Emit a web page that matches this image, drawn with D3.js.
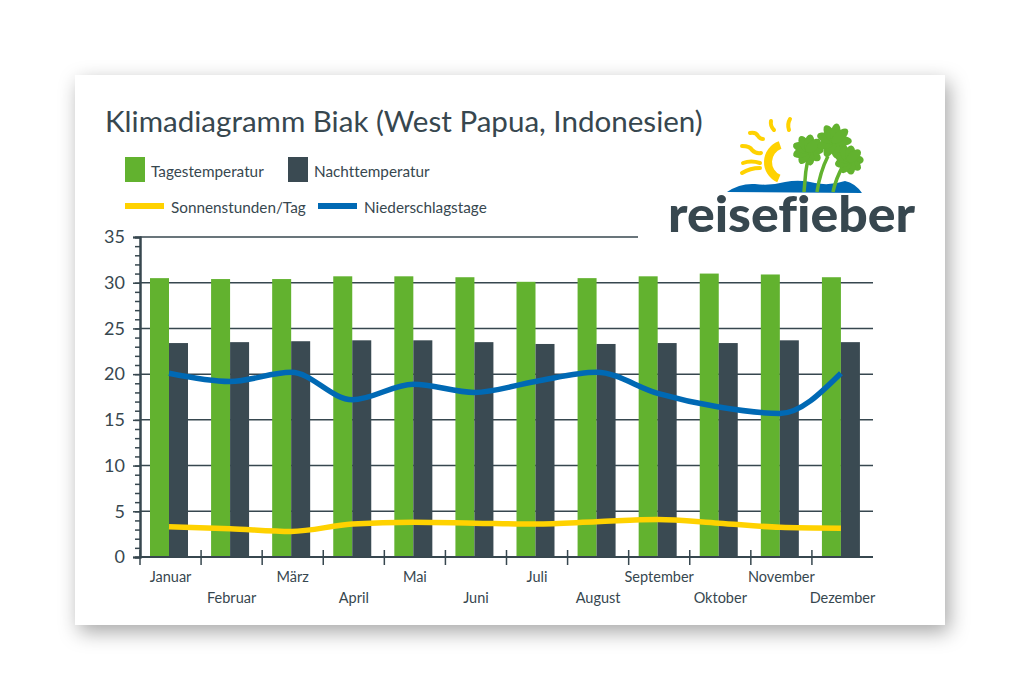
<!DOCTYPE html>
<html>
<head>
<meta charset="utf-8">
<script src="https://cdn.jsdelivr.net/npm/d3@7"></script>
<style>
  body { margin: 0; background: #fff; }
  svg text { font-family: Lato, "Open Sans", sans-serif; fill: #37474f; font-variant-ligatures: none; }
</style>
</head>
<body>
<div id="chart"></div>
<script>
// chart values
const months = ["Januar", "Februar", "März", "April", "Mai", "Juni", "Juli", "August", "September", "Oktober", "November", "Dezember"];
const dayTemp = [30.5, 30.4, 30.4, 30.7, 30.7, 30.6, 30.1, 30.5, 30.7, 31.0, 30.9, 30.6];
const nightTemp = [23.4, 23.5, 23.6, 23.7, 23.7, 23.5, 23.3, 23.3, 23.4, 23.4, 23.7, 23.5];
const sunHours = [3.3, 3.1, 2.8, 3.6, 3.8, 3.7, 3.6, 3.85, 4.1, 3.7, 3.25, 3.15];
const rainDays = [20.1, 19.2, 20.2, 17.2, 18.9, 18.0, 19.2, 20.2, 17.9, 16.4, 15.7, 20.1];
const yTicks = [0, 5, 10, 15, 20, 25, 30, 35];

const green = "#62b22f", dark = "#3a4a52", yellow = "#ffd200", blue = "#0069b4", ink = "#37474f";

const svg = d3.select("#chart").append("svg")
    .attr("width", 1020)
    .attr("height", 700);

// card with shadow
const defs = svg.append("defs");
const f = defs.append("filter").attr("id", "shadow")
    .attr("x", "-10%").attr("y", "-10%").attr("width", "120%").attr("height", "125%");
f.append("feDropShadow").attr("dx", 4).attr("dy", 7).attr("stdDeviation", 10)
    .attr("flood-color", "#000").attr("flood-opacity", 0.35);

svg.append("rect")
    .attr("x", 75).attr("y", 75).attr("width", 870).attr("height", 550)
    .attr("fill", "#fff").attr("filter", "url(#shadow)");

// title, sized to the width it has in the original
const title = svg.append("text")
    .attr("x", 105).attr("y", 132)
    .attr("font-size", 26)
    .text("Klimadiagramm Biak (West Papua, Indonesien)");
const tw = title.node().getComputedTextLength();
title.attr("font-size", Math.min(30, 26 * 598 / tw));

// scales
const x = d3.scaleBand().domain(months).range([140, 873]);
const y = d3.scaleLinear().domain([0, 35]).range([557, 237]);
const barW = 19, barOff = 10;
const cx = m => x(m) + barOff + barW;

// gridlines
const g = svg.append("g");
g.selectAll("line.grid")
    .data(yTicks.filter(d => d > 0))
    .enter().append("line")
    .attr("class", "grid")
    .attr("x1", 140)
    .attr("x2", d => d === 35 ? 638 : 873)
    .attr("y1", d => y(d)).attr("y2", d => y(d))
    .attr("stroke", ink).attr("stroke-width", 1.5);

// bars
g.selectAll("rect.day")
    .data(months)
    .enter().append("rect")
    .attr("x", d => x(d) + barOff)
    .attr("y", (d, i) => y(dayTemp[i]))
    .attr("width", barW)
    .attr("height", (d, i) => y(0) - y(dayTemp[i]))
    .attr("fill", green);

g.selectAll("rect.night")
    .data(months)
    .enter().append("rect")
    .attr("x", d => x(d) + barOff + barW)
    .attr("y", (d, i) => y(nightTemp[i]))
    .attr("width", barW)
    .attr("height", (d, i) => y(0) - y(nightTemp[i]))
    .attr("fill", dark);

// lines
const line = d3.line()
    .x((d, i) => cx(months[i]))
    .y(d => y(d))
    .curve(d3.curveMonotoneX);

g.append("path").datum(rainDays)
    .attr("d", line).attr("fill", "none")
    .attr("stroke", blue).attr("stroke-width", 5.5);

g.append("path").datum(sunHours)
    .attr("d", line).attr("fill", "none")
    .attr("stroke", yellow).attr("stroke-width", 5.5);

// y axis: minor and major ticks
const yMinor = svg.append("g").attr("transform", "translate(140,0)")
    .call(d3.axisLeft(y).tickValues(d3.range(0, 36)).tickSize(5).tickFormat(""));
const yMajor = svg.append("g").attr("transform", "translate(140,0)")
    .call(d3.axisLeft(y).tickValues(yTicks).tickSize(7).tickPadding(8));
[yMinor, yMajor].forEach(a => {
    a.select(".domain").attr("stroke", ink).attr("stroke-width", 2);
    a.selectAll(".tick line").attr("stroke", ink).attr("stroke-width", 1.5);
});
yMajor.selectAll(".tick text")
    .attr("font-size", 18).attr("fill", ink)
    .style("font-family", "Lato, sans-serif");

// x axis
svg.append("line")
    .attr("x1", 140).attr("x2", 873).attr("y1", 557).attr("y2", 557)
    .attr("stroke", ink).attr("stroke-width", 2);

svg.selectAll("line.xtick")
    .data(months)
    .enter().append("line")
    .attr("x1", d => x(d)).attr("x2", d => x(d))
    .attr("y1", 550).attr("y2", 565)
    .attr("stroke", ink).attr("stroke-width", 1.5);

svg.selectAll("text.xlab")
    .data(months)
    .enter().append("text")
    .attr("x", d => x(d) + x.bandwidth() / 2)
    .attr("y", (d, i) => i % 2 === 0 ? 582 : 603)
    .attr("text-anchor", "middle")
    .attr("font-size", 14.5)
    .text(d => d);

// legend
const legendBars = [
    { label: "Tagestemperatur", color: green, x: 125 },
    { label: "Nachttemperatur", color: dark, x: 288 }
];
const legendLines = [
    { label: "Sonnenstunden/Tag", color: yellow, x: 125 },
    { label: "Niederschlagstage", color: blue, x: 318 }
];
legendBars.forEach(l => {
    svg.append("rect").attr("x", l.x).attr("y", 157).attr("width", 20).attr("height", 25).attr("fill", l.color);
    svg.append("text").attr("x", l.x + 26).attr("y", 177).attr("font-size", 15.3).text(l.label);
});
legendLines.forEach(l => {
    svg.append("rect").attr("x", l.x).attr("y", 203).attr("width", 39).attr("height", 6).attr("fill", l.color);
    svg.append("text").attr("x", l.x + 46).attr("y", 213).attr("font-size", 15.3).text(l.label);
});

// logo
const logo = svg.append("g");
logo.append("path")
    .attr("d", "M727,192 Q740,183 755,184 Q770,186 785,182 Q800,179 815,183 Q830,186 845,181 Q855,183 862,193 Z")
    .attr("fill", blue);
logo.append("path")
    .attr("transform", "translate(786,162)")
    .attr("d", d3.arc().innerRadius(14).outerRadius(22).startAngle(3.55).endAngle(5.95)())
    .attr("fill", yellow);
const rays = [
    "M742,146 Q750,146 752,150 Q756,154 761,153",
    "M743,163 Q751,160 760,163",
    "M742,173 Q750,168 760,168",
    "M750,133 Q756,132 758,136 Q760,139 763,139",
    "M771,121 Q770,126 774,130",
    "M790,119 Q787,124 789,130"
];
logo.selectAll("path.ray").data(rays).enter().append("path")
    .attr("d", d => d).attr("fill", "none")
    .attr("stroke", yellow).attr("stroke-width", 4).attr("stroke-linecap", "round");
const trunks = ["M804,192 Q805,172 809,152", "M817,192 Q820,172 828,156", "M833,192 Q836,178 843,166"];
logo.selectAll("path.trunk").data(trunks).enter().append("path")
    .attr("d", d => d).attr("fill", "none")
    .attr("stroke", green).attr("stroke-width", 3.5);
const crowns = [[808, 150, 15], [834, 141, 17], [849, 160, 14]];
crowns.forEach(c => {
    for (let a = 0; a < 360; a += 40) {
        logo.append("ellipse")
            .attr("cx", c[0]).attr("cy", c[1])
            .attr("rx", c[2] * 0.6).attr("ry", 5)
            .attr("fill", green)
            .attr("transform", `rotate(${a},${c[0]},${c[1]}) translate(${c[2] * 0.45},0)`);
    }
});
logo.append("text")
    .attr("x", 668).attr("y", 232)
    .attr("font-size", 50).attr("font-weight", 900)
    .attr("textLength", 247).attr("lengthAdjust", "spacingAndGlyphs")
    .attr("fill", ink)
    .text("reisefieber");
</script>
</body>
</html>
